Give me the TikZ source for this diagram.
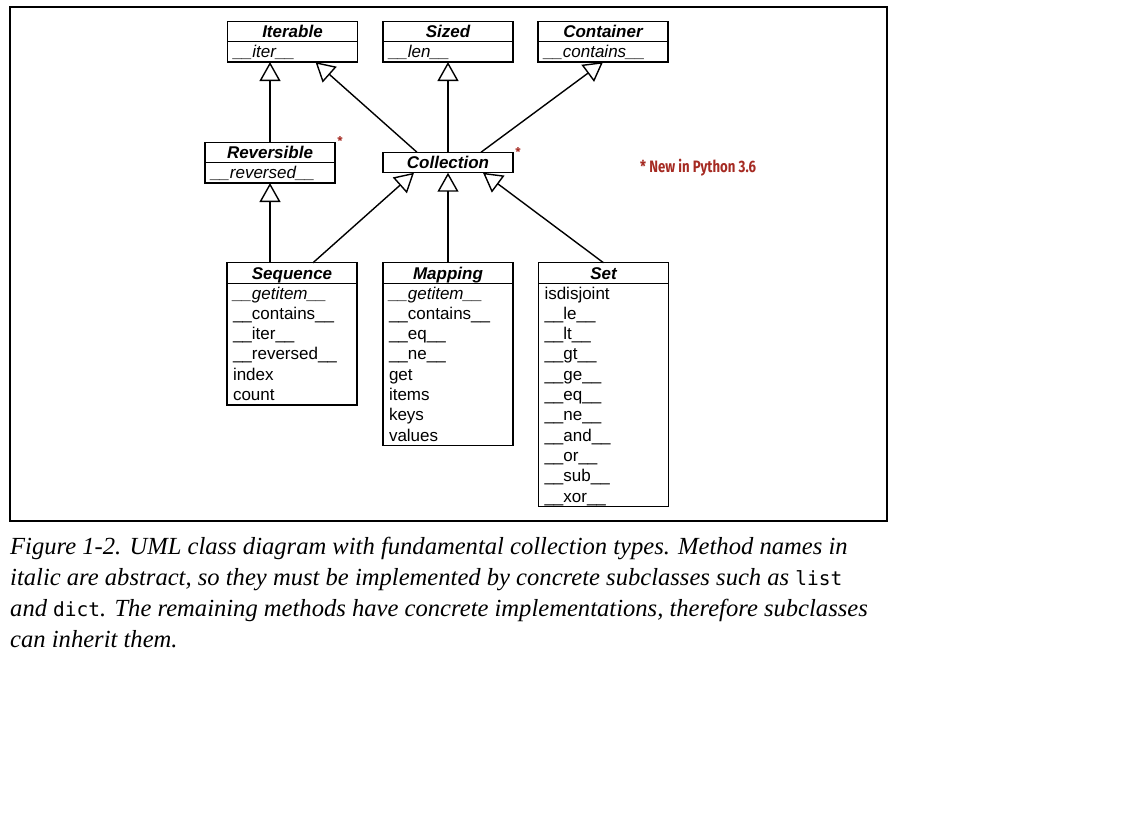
\documentclass[tikz,border=0pt]{standalone}
\usepackage{fontspec}
\setmainfont{Liberation Serif}
\setsansfont{Liberation Sans}
\setmonofont{DejaVu Sans Mono}
\newfontfamily\notefont{Fira Sans}
\usepackage{graphicx}
\usepackage{xcolor}
\usetikzlibrary{arrows.meta,positioning}
\definecolor{notered}{HTML}{A52A22}
\tikzset{
	classhead/.style={draw, line width=1.4pt, outer sep=0pt, minimum width=130pt, minimum height=20.5pt,
			inner sep=0pt, text height=15pt, text depth=2pt,
			font=\sffamily\fontsize{17}{20.3}\selectfont\bfseries\itshape},
	classbody/.style={draw, line width=1.4pt, outer sep=0pt, text width=118pt, inner xsep=6pt, inner ysep=0pt,
			align=left, font=\sffamily\fontsize{17}{20.3}\selectfont,
			execute at begin node=\rule{0pt}{15.8pt}, execute at end node=\rule[-4.5pt]{0pt}{4.5pt}},
	inherit/.style={-{Triangle[open,length=19pt,width=21pt]}, line width=1.4pt},
	newmark/.style={text=notered, inner sep=0pt, font=\notefont\bfseries\fontsize{16.5}{18}\selectfont}
}
\newcommand{\du}[1]{\_\_#1\_\_}
\newcommand{\code}[1]{{\upshape\ttfamily\fontsize{19.5}{31}\selectfont #1}}

\begin{document}
\begin{tikzpicture}[x=1pt,y=-1pt]
		\useasboundingbox (0,0) rectangle (1146,829);
		\draw[line width=1.4pt] (10,7) rectangle (887,521);

		\foreach \name/\title/\meth/\x in {iter/Iterable/iter/292.5, sized/Sized/len/448, cont/Container/contains/603}
		{
			\node[classhead] (\name) at (\x,31.5) {\title};
			\node[classbody, below=0pt of \name] (\name-body) {\textit{\du{\meth}}};
		}

		\node[classhead] (rev) at (270,152.5) {Reversible};
		\node[classbody, below=0pt of rev] (rev-body) {\textit{\du{reversed}}};
		\node[classhead] (coll) at (448,162.5) {Collection};

		\node[classhead] (seq) at (292,273) {Sequence};
		\node[classbody, below=0pt of seq] (seq-body) {\textit{\du{getitem}}\\ \du{contains}\\ \du{iter}\\ \du{reversed}\\ index\\ count};
		\node[classhead] (map) at (448,273) {Mapping};
		\node[classbody, below=0pt of map] (map-body) {\textit{\du{getitem}}\\ \du{contains}\\ \du{eq}\\ \du{ne}\\ get\\ items\\ keys\\ values};
		\node[classhead] (set) at (603.5,273) {Set};
		\node[classbody, below=0pt of set] (set-body) {isdisjoint\\ \du{le}\\ \du{lt}\\ \du{gt}\\ \du{ge}\\ \du{eq}\\ \du{ne}\\ \du{and}\\ \du{or}\\ \du{sub}\\ \du{xor}};

		\node[newmark, font=\notefont\bfseries\fontsize{12}{14}\selectfont, anchor=north] (rev-star) at ([xshift=5pt,yshift=6pt]rev.north east) {*};
		\node[newmark, font=\notefont\bfseries\fontsize{12}{14}\selectfont, anchor=north] (coll-star) at ([xshift=5pt,yshift=5pt]coll.north east) {*};
		\node[newmark, anchor=west] (note) at (640,168) {\scalebox{0.8}[1]{* New in Python 3.6}};

		\draw[inherit] (rev.north) -- (rev.north |- iter-body.south);
		\draw[inherit] ([xshift=34pt]coll.north west) -- ([xshift=-42pt]iter-body.south east);
		\draw[inherit] (coll.north) -- (sized-body.south);
		\draw[inherit] ([xshift=-32pt]coll.north east) -- (cont-body.south);
		\draw[inherit] (seq.north -| rev-body.south) -- (rev-body.south);
		\draw[inherit] ([xshift=-44pt]seq.north east) -- ([xshift=31pt]coll.south west);
		\draw[inherit] (map.north) -- (coll.south);
		\draw[inherit] (set.north) -- ([xshift=-30pt]coll.south east);

		\node[anchor=north west, align=left, inner sep=0pt, font=\fontsize{24.6}{31}\selectfont\itshape] (caption) at (10,537)
		{Figure 1-2. UML class diagram with fundamental collection types. Method names in\\
			italic are abstract, so they must be implemented by concrete subclasses such as \code{list}\\
			and \code{dict}. The remaining methods have concrete implementations, therefore subclasses\\
			can inherit them.};
	\end{tikzpicture}
\end{document}
